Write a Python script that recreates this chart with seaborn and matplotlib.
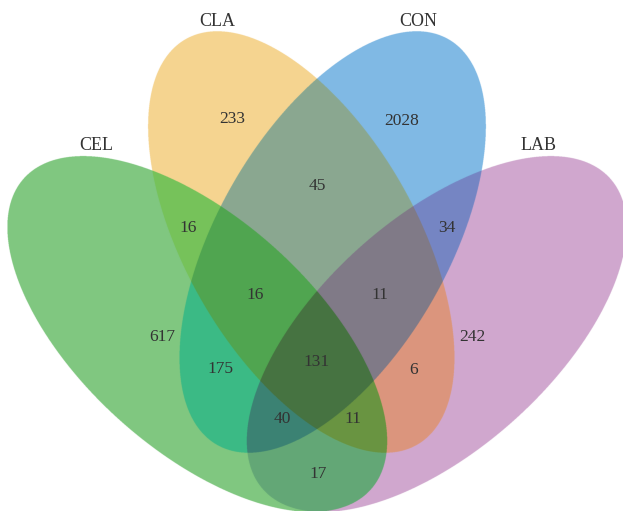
import numpy as np
import pandas as pd
import matplotlib
matplotlib.use("Agg")
import matplotlib.pyplot as plt
import seaborn as sns

# set names and counts per region (membership flags in CEL, CLA, CON, LAB order)
set_names = ["CEL", "CLA", "CON", "LAB"]
region_keys = ["1000", "0100", "0010", "0001",
               "1100", "0110", "0011", "1010", "0101", "1001",
               "1110", "0111", "1011", "1101", "1111"]
region_counts = [617, 233, 2028, 242,
                 16, 45, 34, 175, 6, 17,
                 16, 11, 40, 11, 131]

# layout (image pixel coords, y down)
label_xy = [(96, 146), (217, 22), (418, 21), (539, 146)]
count_xy = [(162, 337), (232, 119), (402, 121), (472, 337),
            (188, 228), (317, 186), (447, 228), (220, 369), (414, 370), (318, 474),
            (255, 295), (380, 295), (282, 419), (353, 419), (317, 362)]
region_colors = ["#80C780", "#F5D491", "#80B9E4", "#D0A8CE",
                 "#76C25A", "#8AA891", "#7586C4", "#3CBA85", "#DC967D", "#64A876",
                 "#50A550", "#807A87", "#3C8273", "#699441", "#467341"]

# ellipses: centre, semi axes, angle of major axis
ell_center = [(197.3, 334.0), (301.3, 242.0), (332.7, 242.0), (436.7, 334.0)]
ell_axes = [(233.0, 115.9), (233.5, 115.6), (233.5, 115.6), (233.0, 115.9)]
ell_angle = [41.9, 60.3, 119.7, 138.1]

W, H = 623, 511
ss = 4

df = pd.DataFrame({"key": region_keys, "count": region_counts, "color": region_colors})
df["code"] = df["key"].apply(lambda k: sum(int(c) << i for i, c in enumerate(k)))

# which sets each (supersampled) pixel falls in
xs = (np.arange(W * ss) + 0.5) / ss
ys = (np.arange(H * ss) + 0.5) / ss
X, Y = np.meshgrid(xs, ys)
code = np.zeros(X.shape, dtype=int)
for i in range(4):
    cx, cy = ell_center[i]
    a, b = ell_axes[i]
    t = np.radians(ell_angle[i])
    dx, dy = X - cx, Y - cy
    u = dx * np.cos(t) + dy * np.sin(t)
    v = -dx * np.sin(t) + dy * np.cos(t)
    inside = (u / a) ** 2 + (v / b) ** 2 <= 1
    code[inside] |= 1 << i

lut = np.ones((16, 3))
for c, col in zip(df["code"], df["color"]):
    lut[c] = matplotlib.colors.to_rgb(col)
img = lut[code]

sns.set_style("white")
plt.rcParams["font.family"] = ["Liberation Serif", "DejaVu Serif"]

fig = plt.figure(figsize=(W / 100, H / 100), dpi=100)
ax = fig.add_axes([0, 0, 1, 1])
ax.imshow(img, extent=(0, W, H, 0), interpolation="antialiased")
ax.set_xlim(0, W)
ax.set_ylim(H, 0)
ax.axis("off")

for (x, y), n in zip(count_xy, df["count"]):
    ax.text(x, y, str(n), ha="center", va="center", fontsize=12.5, color="#333333")
for (x, y), name in zip(label_xy, set_names):
    ax.text(x, y, name, ha="center", va="center", fontsize=13, color="#333333")

fig.savefig("out.png", dpi=100)
